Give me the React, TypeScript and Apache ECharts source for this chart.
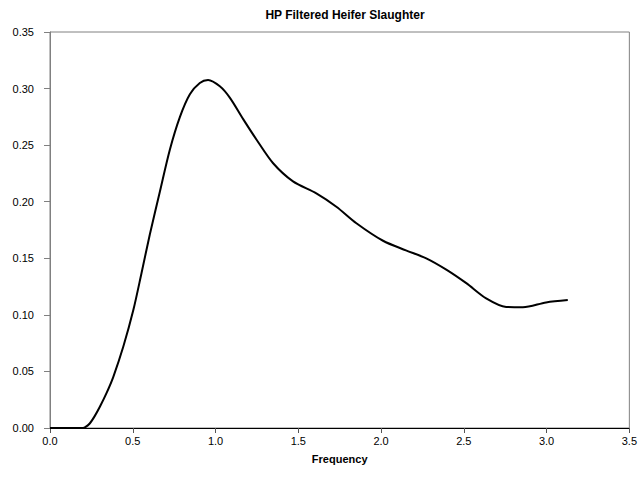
import React, { useEffect, useRef } from "react";
import * as echarts from "echarts";

const title = "HP Filtered Heifer Slaughter";
const xAxisName = "Frequency";
const freq = [0, 0.1, 0.2, 0.211, 0.24, 0.27, 0.302, 0.342, 0.382, 0.443, 0.503, 0.553, 0.603, 0.664, 0.724, 0.785, 0.845, 0.905, 0.955, 1.026, 1.086, 1.167, 1.247, 1.348, 1.468, 1.609, 1.73, 1.851, 2.012, 2.15, 2.273, 2.394, 2.515, 2.635, 2.756, 2.857, 2.997, 3.128];
const spectrum = [0, 0, 0, 0.0005, 0.004, 0.0105, 0.019, 0.031, 0.045, 0.072, 0.104, 0.137, 0.171, 0.209, 0.246, 0.275, 0.295, 0.305, 0.3076, 0.302, 0.292, 0.273, 0.255, 0.234, 0.218, 0.2074, 0.1956, 0.181, 0.1655, 0.157, 0.15, 0.14, 0.128, 0.1146, 0.107, 0.1067, 0.111, 0.1131];
const yTicks = ["0.00", "0.05", "0.10", "0.15", "0.20", "0.25", "0.30", "0.35"];

export default function App() {
  const ref = useRef<HTMLDivElement>(null);
  useEffect(() => {
    const chart = echarts.init(ref.current!, null, { renderer: "svg" });
    const font = "'Liberation Sans', Arial, sans-serif";
    chart.setOption({
      animation: false,
      backgroundColor: "#ffffff",
      title: {
        text: title,
        left: 340,
        textAlign: "center",
        top: 4,
        textStyle: { fontFamily: font, fontSize: 12, fontWeight: "bold", color: "#000" },
      },
      grid: {
        left: 50,
        right: 10,
        top: 32,
        bottom: 54,
        show: true,
        borderColor: "#808080",
        borderWidth: 1,
        backgroundColor: "#ffffff",
      },
      xAxis: {
        type: "value",
        min: 0,
        max: 3.5,
        interval: 0.5,
        name: xAxisName,
        nameLocation: "middle",
        nameGap: 25,
        nameTextStyle: { fontFamily: font, fontSize: 11, fontWeight: "bold", color: "#000" },
        axisLine: { show: true, onZero: false, lineStyle: { color: "#000", width: 1 } },
        axisTick: { show: true, inside: false, length: 5, lineStyle: { color: "#555" } },
        axisLabel: {
          fontFamily: font,
          fontSize: 11,
          color: "#000",
          margin: 7,
          formatter: (v: number) => v.toFixed(1),
        },
        splitLine: { show: false },
      },
      yAxis: {
        type: "value",
        min: 0,
        max: 0.35,
        interval: 0.05,
        axisLine: { show: true, lineStyle: { color: "#808080", width: 1 } },
        axisTick: { show: true, inside: false, length: 6, lineStyle: { color: "#808080" } },
        axisLabel: {
          fontFamily: font,
          fontSize: 11,
          color: "#000",
          margin: 16,
          formatter: (v: number) => yTicks[Math.round(v / 0.05)] ?? v.toFixed(2),
        },
        splitLine: { show: false },
      },
      series: [
        {
          type: "line",
          data: freq.map((f, i) => [f, spectrum[i]]),
          smooth: 0.3,
          showSymbol: false,
          lineStyle: { color: "#000", width: 2 },
        },
      ],
    });
    return () => chart.dispose();
  }, []);
  return (
    <div
      ref={ref}
      style={{ position: "absolute", left: 0, top: 0, width: 640, height: 482 }}
    />
  );
}
